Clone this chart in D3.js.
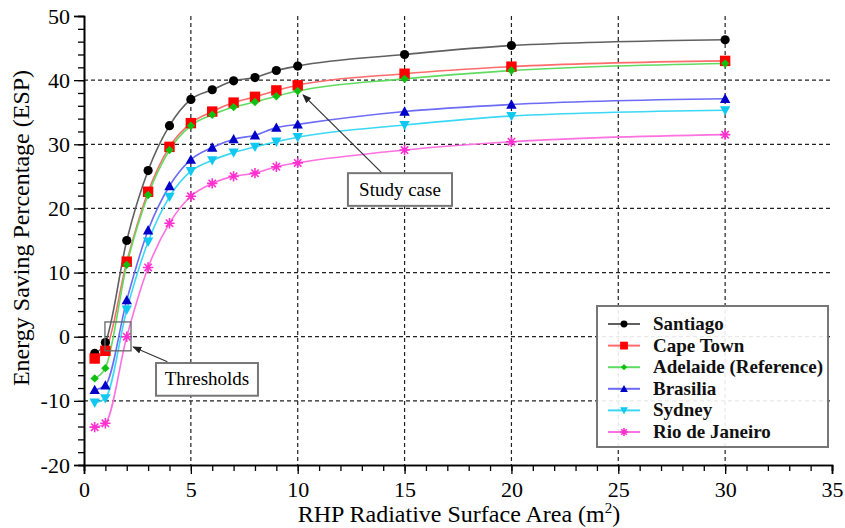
<!DOCTYPE html>
<html>
<head>
<meta charset="utf-8">
<script src="https://cdn.jsdelivr.net/npm/d3@7"></script>
<style>
  body { margin: 0; background: #fff; }
  svg { display: block; }
  svg text { font-family: "Liberation Serif", "Times New Roman", "DejaVu Serif", serif !important; }
</style>
</head>
<body>
<svg id="chart" width="845" height="528"></svg>
<script>
// ---------- data ----------
const xValues = [0.5, 1, 2, 3, 4, 5, 6, 7, 8, 9, 10, 15, 20, 30];
const santiago = [-2.6, -0.9, 15.0, 25.9, 32.9, 37.0, 38.5, 39.9, 40.4, 41.5, 42.2, 44.0, 45.4, 46.3];
const capeTown = [-3.4, -2.2, 11.7, 22.6, 29.6, 33.3, 35.1, 36.5, 37.4, 38.4, 39.2, 41.0, 42.1, 43.0];
const adelaide = [-6.5, -4.9, 11.2, 22.1, 29.1, 32.9, 34.6, 35.8, 36.6, 37.5, 38.3, 40.2, 41.5, 42.6];
const brasilia = [-8.3, -7.6, 5.7, 16.6, 23.5, 27.6, 29.5, 30.8, 31.4, 32.6, 33.1, 35.1, 36.2, 37.1];
const sydney = [-10.3, -9.6, 4.2, 14.8, 21.8, 25.8, 27.5, 28.7, 29.6, 30.4, 31.1, 33.0, 34.4, 35.3];
const rio = [-14.1, -13.5, 0.0, 10.8, 17.7, 21.9, 23.9, 25.0, 25.5, 26.5, 27.1, 29.1, 30.4, 31.5];

const seriesNames = ["Santiago", "Cape Town", "Adelaide (Reference)", "Brasilia", "Sydney", "Rio de Janeiro"];
const seriesValues = [santiago, capeTown, adelaide, brasilia, sydney, rio];

const xTickLabels = ["0", "5", "10", "15", "20", "25", "30", "35"];
const yTickLabels = ["-20", "-10", "0", "10", "20", "30", "40", "50"];

// ---------- styles ----------
const FONT = '"Liberation Serif", "Times New Roman", "DejaVu Serif", serif';
const lineColors = ["#606060", "#ff6b6b", "#5fdc5f", "#6b6bf5", "#3ad8f5", "#ff70e0"];
const markColors = ["#000000", "#ff0000", "#10c010", "#0000c8", "#10c8f0", "#ff30d0"];
const markTypes = ["circle", "square", "diamond", "triUp", "triDown", "star"];

const svg = d3.select("#chart");
const x = d3.scaleLinear().domain([0, 35]).range([84, 832]);
const y = d3.scaleLinear().domain([-20, 50]).range([465, 16]);

// ---------- grid ----------
const gridX = [5, 10, 15, 20, 25, 30];
const gridY = [-10, 0, 10, 20, 30, 40];
const grid = svg.append("g");
grid.selectAll(".gx").data(gridX).enter().append("line")
  .attr("x1", d => x(d)).attr("x2", d => x(d))
  .attr("y1", y(50)).attr("y2", y(-20))
  .attr("stroke", "#222").attr("stroke-width", 1.2).attr("stroke-dasharray", "4,3");
grid.selectAll(".gy").data(gridY).enter().append("line")
  .attr("x1", x(0)).attr("x2", x(35))
  .attr("y1", d => y(d)).attr("y2", d => y(d))
  .attr("stroke", "#222").attr("stroke-width", 1.2).attr("stroke-dasharray", "4,3");

// ---------- axes ----------
const xAxisMinor = d3.axisBottom(x).tickValues(d3.range(0, 36, 1)).tickSize(6).tickFormat("");
const xAxisMajor = d3.axisBottom(x).tickValues(xTickLabels.map(Number)).tickSize(9)
  .tickFormat((d, i) => xTickLabels[i]);
const yAxisMinor = d3.axisLeft(y).tickValues(d3.range(-20, 51, 2)).tickSize(6).tickFormat("");
const yAxisMajor = d3.axisLeft(y).tickValues(yTickLabels.map(Number)).tickSize(10)
  .tickFormat((d, i) => yTickLabels[i]);

function styleAxis(g) {
  g.attr("font-family", null);
  g.select(".domain").attr("stroke", "#000").attr("stroke-width", 1.6);
  g.selectAll(".tick line").attr("stroke", "#000").attr("stroke-width", 1.3);
  g.selectAll("text").style("font-family", FONT).attr("font-size", 22).attr("fill", "#000");
}
svg.append("g").attr("transform", `translate(0,${y(-20)})`).call(xAxisMinor).call(styleAxis);
svg.append("g").attr("transform", `translate(0,${y(-20)})`).call(xAxisMajor).call(styleAxis)
  .selectAll("text").attr("dy", "0.9em");
svg.append("g").attr("transform", `translate(${x(0)},0)`).call(yAxisMinor).call(styleAxis);
svg.append("g").attr("transform", `translate(${x(0)},0)`).call(yAxisMajor).call(styleAxis)
  .selectAll("text").attr("dx", "-0.05em");

// axis titles
svg.append("text").attr("x", 459).attr("y", 522).attr("text-anchor", "middle")
  .style("font-family", FONT).attr("font-size", 24).attr("fill", "#000")
  .html('RHP Radiative Surface Area (m<tspan dy="-9" font-size="15">2</tspan><tspan dy="9">)</tspan>');
svg.append("text").attr("transform", "translate(29,228) rotate(-90)")
  .attr("text-anchor", "middle").style("font-family", FONT).attr("font-size", 24).attr("fill", "#000")
  .text("Energy Saving Percentage (ESP)");

// ---------- markers ----------
function drawMarker(g, type, cx, cy, color, s) {
  if (type === "circle") {
    g.append("circle").attr("cx", cx).attr("cy", cy).attr("r", 4.6 * s).attr("fill", color);
  } else if (type === "square") {
    const h = 5.2 * s;
    g.append("rect").attr("x", cx - h).attr("y", cy - h).attr("width", 2 * h).attr("height", 2 * h).attr("fill", color);
  } else if (type === "diamond") {
    const h = 4.2 * s;
    g.append("path").attr("d", `M${cx},${cy - h}L${cx + h},${cy}L${cx},${cy + h}L${cx - h},${cy}Z`).attr("fill", color);
  } else if (type === "triUp") {
    const h = 5.2 * s;
    g.append("path").attr("d", `M${cx},${cy - h}L${cx + h},${cy + h * 0.8}L${cx - h},${cy + h * 0.8}Z`).attr("fill", color);
  } else if (type === "triDown") {
    const h = 5.2 * s;
    g.append("path").attr("d", `M${cx},${cy + h}L${cx + h},${cy - h * 0.8}L${cx - h},${cy - h * 0.8}Z`).attr("fill", color);
  } else if (type === "star") {
    const h = 5.2 * s;
    const p = [];
    for (let k = 0; k < 4; k++) {
      const a = k * Math.PI / 4;
      p.push(`M${cx - h * Math.cos(a)},${cy - h * Math.sin(a)}L${cx + h * Math.cos(a)},${cy + h * Math.sin(a)}`);
    }
    g.append("path").attr("d", p.join("")).attr("stroke", color).attr("stroke-width", 1.6).attr("fill", "none");
  }
}

// ---------- lines ----------
const line = d3.line().x(d => x(d[0])).y(d => y(d[1])).curve(d3.curveMonotoneX);
const plot = svg.append("g");
seriesValues.forEach((vals, i) => {
  const pts = xValues.map((xv, j) => [xv, vals[j]]);
  plot.append("path").attr("d", line(pts)).attr("fill", "none")
    .attr("stroke", lineColors[i]).attr("stroke-width", 1.6);
});
seriesValues.forEach((vals, i) => {
  const g = plot.append("g");
  xValues.forEach((xv, j) => drawMarker(g, markTypes[i], x(xv), y(vals[j]), markColors[i], 1));
});

// ---------- annotations (in data units) ----------
const threshRect = [0.98, 2.3, 2.2, -2.2];     // x0, y0, x1, y1
const threshBox = [3.37, -4.1, 8.14, -9.2];
const threshArrow = [3.9, -3.9, 2.3, -1.6];
const studyBox = [12.35, 25.5, 17.22, 20.4];
const studyArrow = [13.95, 25.5, 10.25, 37.7];

svg.append("defs").append("marker").attr("id", "ah").attr("viewBox", "0 0 10 10")
  .attr("refX", 9).attr("refY", 5).attr("markerWidth", 9).attr("markerHeight", 9)
  .attr("markerUnits", "userSpaceOnUse").attr("orient", "auto")
  .append("path").attr("d", "M0,1L10,5L0,9Z").attr("fill", "#222");

const ann = svg.append("g");
ann.append("rect").attr("x", x(threshRect[0])).attr("y", y(threshRect[1]))
  .attr("width", x(threshRect[2]) - x(threshRect[0])).attr("height", y(threshRect[3]) - y(threshRect[1]))
  .attr("fill", "none").attr("stroke", "#666").attr("stroke-width", 1.3);

function box(b, label) {
  ann.append("rect").attr("x", x(b[0])).attr("y", y(b[1]))
    .attr("width", x(b[2]) - x(b[0])).attr("height", y(b[3]) - y(b[1]))
    .attr("fill", "#fff").attr("stroke", "#777").attr("stroke-width", 2);
  ann.append("text").attr("x", (x(b[0]) + x(b[2])) / 2).attr("y", (y(b[1]) + y(b[3])) / 2 + 6)
    .attr("text-anchor", "middle").style("font-family", FONT).attr("font-size", 19).attr("fill", "#000").text(label);
}
function arrow(a) {
  ann.append("line").attr("x1", x(a[0])).attr("y1", y(a[1])).attr("x2", x(a[2])).attr("y2", y(a[3]))
    .attr("stroke", "#333").attr("stroke-width", 1.2).attr("marker-end", "url(#ah)");
}
arrow(threshArrow);
box(threshBox, "Thresholds");
arrow(studyArrow);
box(studyBox, "Study case");

// ---------- legend ----------
const lg = svg.append("g").attr("transform", "translate(597,306)");
lg.append("rect").attr("x", 0).attr("y", 0).attr("width", 231).attr("height", 141)
  .attr("fill", "#fff").attr("fill-opacity", 0.9).attr("stroke", "#777").attr("stroke-width", 2);
seriesNames.forEach((name, i) => {
  const cy = 18 + i * 21.6;
  lg.append("line").attr("x1", 11).attr("x2", 43).attr("y1", cy).attr("y2", cy)
    .attr("stroke", lineColors[i]).attr("stroke-width", 2);
  drawMarker(lg, markTypes[i], 27, cy, markColors[i], 0.75);
  lg.append("text").attr("x", 56).attr("y", cy + 6).style("font-family", FONT).attr("font-size", 19)
    .attr("font-weight", "bold").attr("fill", "#111").text(name);
});
</script>
</body>
</html>
